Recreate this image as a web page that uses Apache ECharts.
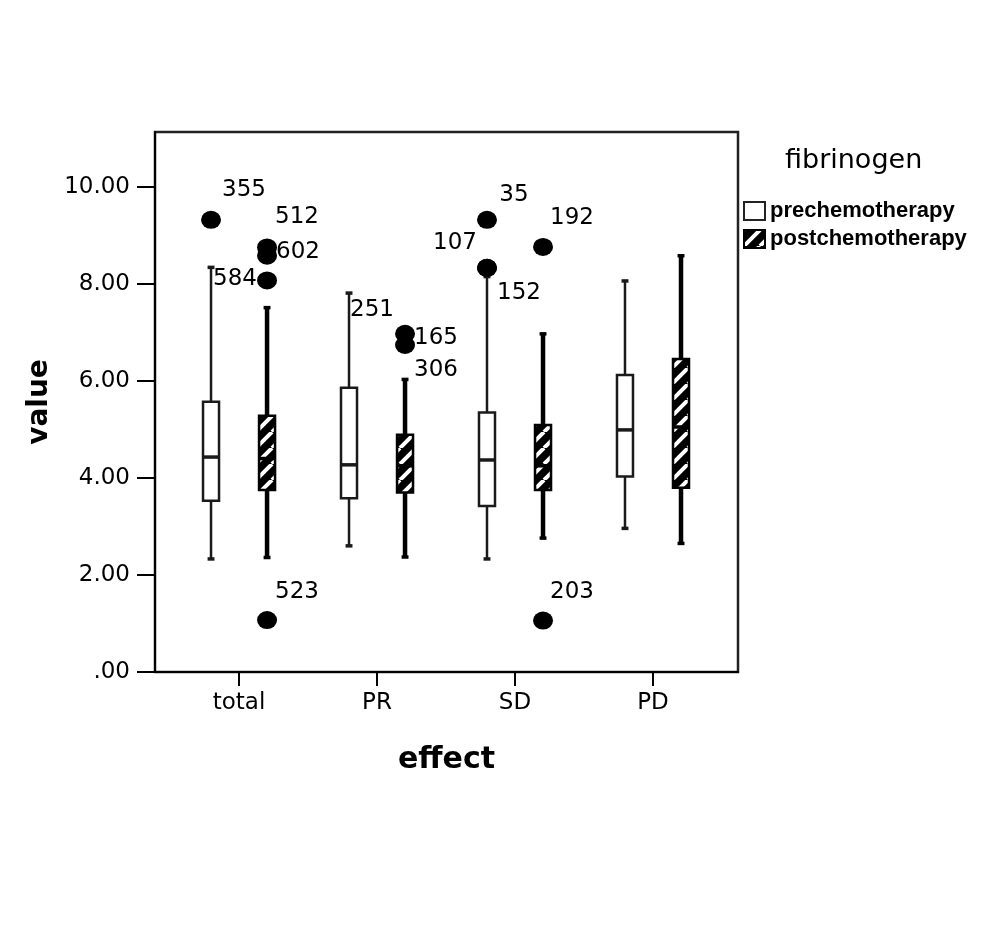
<!DOCTYPE html>
<html><head><meta charset="utf-8">
<script src="https://cdn.jsdelivr.net/npm/echarts@6/dist/echarts.min.js"></script>
<style>html,body{margin:0;padding:0;background:#fff}#c{width:1004px;height:945px}</style>
</head><body><div id="c"></div>
<script>
// ---- data ----
const categories = ['total', 'PR', 'SD', 'PD'];
const seriesNames = ['prechemotherapy', 'postchemotherapy'];
const legendTitle = 'fibrinogen';
const yTicks = [0, 2, 4, 6, 8, 10];
// [min, Q1, median, Q3, max] per category
const preBoxes = [
  [2.33, 3.53, 4.43, 5.57, 8.34],
  [2.60, 3.58, 4.27, 5.86, 7.81],
  [2.33, 3.42, 4.37, 5.35, 8.15],
  [2.96, 4.03, 4.99, 6.12, 8.06]
];
const postBoxes = [
  [2.36, 3.75, 4.40, 5.28, 7.51],
  [2.37, 3.70, 4.25, 4.89, 6.03],
  [2.76, 3.75, 4.25, 5.09, 6.97],
  [2.65, 3.80, 5.05, 6.45, 8.58]
];
const preOutlierCat = [0, 2, 2, 2];
const preOutlierVal = [9.32, 9.32, 8.33, 8.33];
const preOutlierCase = ['355', '35', '107', '152'];
const postOutlierCat = [0, 0, 0, 0, 1, 1, 2, 2];
const postOutlierVal = [8.75, 8.58, 8.07, 1.07, 6.97, 6.74, 8.76, 1.06];
const postOutlierCase = ['512', '602', '', '523', '165', '306', '192', '203'];
// case labels sitting at the upper whisker end of pre boxes
const whiskerCaseCat = [0, 1];
const whiskerCase = ['584', '251'];

// ---- style (positions / sizes) ----
const SIDE_OFFSET = 0.203;  // x offset of pre/post boxes from category centre
const BOX_W = 0.116;
const CAP_W = 0.05;
const preLabelOffset = [[33, -30], [27, -25], [-32, -25], [32, 25]];
const postLabelOffset = [[30, -30], [31, -4], [0, 0], [30, -28], [31, 4], [31, 25], [29, -29], [29, -29]];
const whiskerLabelOffset = [[24, 12], [23, 17]];
const FONT = 'DejaVu Sans';

function makeHatch() {
  const s = 16, c = document.createElement('canvas');
  c.width = s; c.height = s;
  const g = c.getContext('2d');
  g.fillStyle = '#000'; g.fillRect(0, 0, s, s);
  g.strokeStyle = '#fff'; g.lineWidth = 4; g.beginPath();
  for (const k of [-1, 0, 1]) { g.moveTo(k * s, s); g.lineTo(k * s + s, 0); }
  g.stroke();
  return c;
}
const hatch = { image: makeHatch(), repeat: 'repeat' };

function boxRenderer(side, st) {
  return function (params, api) {
    const x = api.value(0) + side * SIDE_OFFSET;
    const p = [1, 2, 3, 4, 5].map(i => api.coord([x, api.value(i)]));
    const hw = api.size([BOX_W, 0])[0] / 2;
    const cw = api.size([CAP_W, 0])[0] / 2;
    const cx = p[0][0];
    const line = (x1, y1, x2, y2, w) => ({ type: 'line', shape: { x1, y1, x2, y2 }, style: { stroke: st.stroke, lineWidth: w } });
    return {
      type: 'group',
      children: [
        line(cx, p[0][1], cx, p[1][1], st.whisker),
        line(cx, p[3][1], cx, p[4][1], st.whisker),
        line(cx - cw, p[0][1], cx + cw, p[0][1], 3.5),
        line(cx - cw, p[4][1], cx + cw, p[4][1], 3.5),
        { type: 'rect', shape: { x: cx - hw, y: p[3][1], width: hw * 2, height: p[1][1] - p[3][1] },
          style: { fill: st.fill, stroke: st.stroke, lineWidth: st.box } },
        line(cx - hw, p[2][1], cx + hw, p[2][1], 3.5)
      ]
    };
  };
}

const boxData = arr => arr.map((b, i) => [i].concat(b));
const outlierData = (cats, vals, ids, offs, side) => cats.map((c, i) => ({
  name: ids[i], value: [c + side * SIDE_OFFSET, vals[i]], label: { offset: offs[i] }
}));
const labelStyle = { show: true, position: 'inside', formatter: '{b}', fontFamily: FONT, fontSize: 23, color: '#000' };

const chart = echarts.init(document.getElementById('c'), null, { renderer: 'canvas' });
chart.setOption({
  animation: false,
  backgroundColor: '#fff',
  title: {
    text: legendTitle, left: 785, top: 147, padding: 0,
    textStyle: { fontFamily: FONT, fontSize: 27, fontWeight: 'normal', color: '#000' }
  },
  legend: {
    orient: 'vertical', left: 743, top: 200, itemWidth: 21, itemHeight: 18, itemGap: 6,
    selectedMode: false, padding: 0,
    textStyle: { fontFamily: 'Liberation Sans', fontWeight: 'bold', fontSize: 22, color: '#000', lineHeight: 22 },
    data: [
      { name: seriesNames[0], icon: 'rect', itemStyle: { color: '#fff', borderColor: '#222', borderWidth: 2 } },
      { name: seriesNames[1], icon: 'rect', itemStyle: { color: hatch, borderColor: '#000', borderWidth: 2 } }
    ]
  },
  grid: { left: 155, top: 132, width: 583, height: 540, show: true, borderColor: '#222', borderWidth: 2.5, containLabel: false },
  xAxis: {
    type: 'value', min: -0.609, max: 3.616,
    splitLine: { show: false },
    axisLine: { onZero: false, lineStyle: { color: '#000', width: 2 } },
    axisTick: { customValues: [0, 1, 2, 3], length: 14, lineStyle: { color: '#000', width: 2 } },
    axisLabel: { customValues: [0, 1, 2, 3], formatter: v => categories[v], margin: 20, fontFamily: FONT, fontSize: 23, color: '#000' },
    name: 'effect', nameLocation: 'middle', nameGap: 73,
    nameTextStyle: { fontFamily: FONT, fontWeight: 'bold', fontSize: 30, color: '#000' }
  },
  yAxis: {
    type: 'value', min: 0, max: 11.13,
    splitLine: { show: false },
    axisLine: { show: true, onZero: false, lineStyle: { color: '#000', width: 2 } },
    axisTick: { show: true, customValues: yTicks, length: 18, lineStyle: { color: '#000', width: 2 } },
    axisLabel: { customValues: yTicks, formatter: v => v === 0 ? '.00' : v.toFixed(2), margin: 25, fontFamily: FONT, fontSize: 23, color: '#000' },
    name: 'value', nameLocation: 'middle', nameRotate: 90, nameGap: 98,
    nameTextStyle: { fontFamily: FONT, fontWeight: 'bold', fontSize: 28, color: '#000' }
  },
  series: [
    { type: 'custom', name: seriesNames[0], data: boxData(preBoxes), encode: { x: 0, y: [1, 2, 3, 4, 5] },
      itemStyle: { color: '#fff' },
      renderItem: boxRenderer(-1, { stroke: '#1a1a1a', fill: '#fff', whisker: 2.5, box: 2.5 }) },
    { type: 'custom', name: seriesNames[1], data: boxData(postBoxes), encode: { x: 0, y: [1, 2, 3, 4, 5] },
      itemStyle: { color: '#000' },
      renderItem: boxRenderer(1, { stroke: '#000', fill: hatch, whisker: 4.5, box: 2.5 }) },
    { type: 'scatter', name: 'pre outliers', symbol: 'circle', symbolSize: [20, 18], itemStyle: { color: '#000', opacity: 1 },
      data: outlierData(preOutlierCat, preOutlierVal, preOutlierCase, preLabelOffset, -1), label: labelStyle, z: 5 },
    { type: 'scatter', name: 'post outliers', symbol: 'circle', symbolSize: [20, 18], itemStyle: { color: '#000', opacity: 1 },
      data: outlierData(postOutlierCat, postOutlierVal, postOutlierCase, postLabelOffset, 1), label: labelStyle, z: 5 },
    { type: 'scatter', name: 'whisker cases', symbolSize: 1, itemStyle: { color: 'rgba(0,0,0,0)', opacity: 1 },
      data: outlierData(whiskerCaseCat, whiskerCaseCat.map(c => preBoxes[c][4]), whiskerCase, whiskerLabelOffset, -1),
      label: labelStyle, z: 6 }
  ]
});
</script>
</body></html>
